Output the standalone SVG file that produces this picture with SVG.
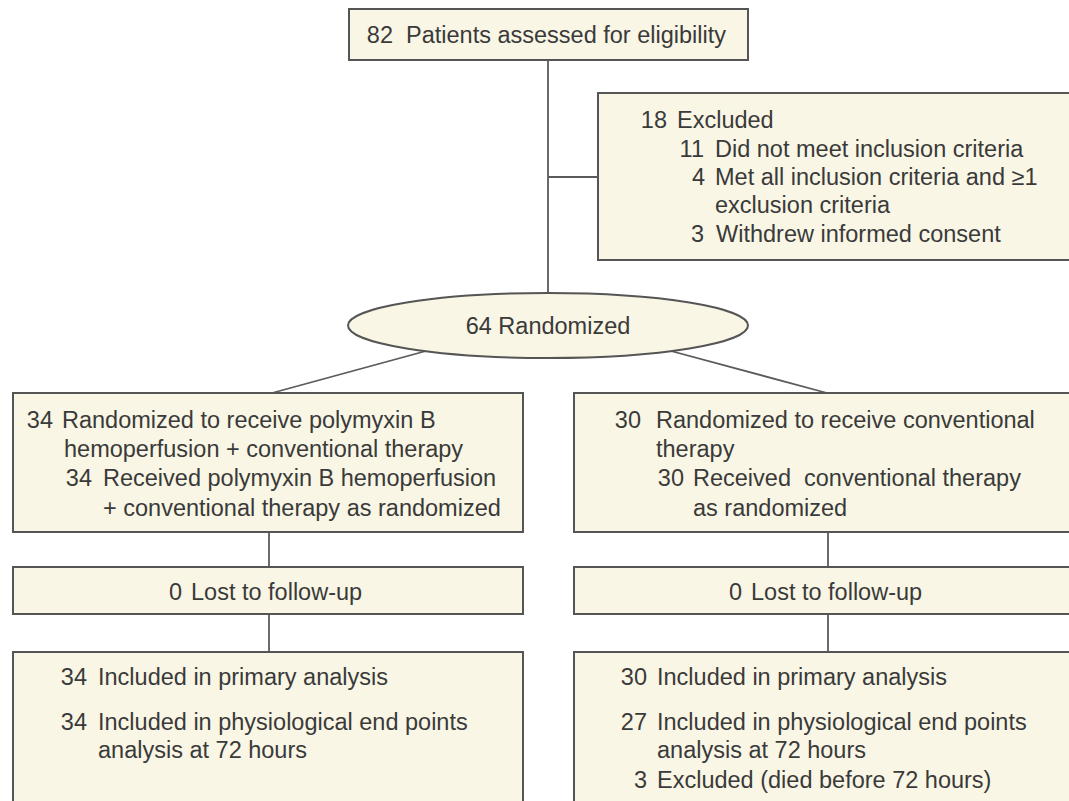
<svg xmlns="http://www.w3.org/2000/svg" width="1069" height="801" viewBox="0 0 1069 801">
<style>
.box{fill:#f9f6e5;stroke:#555;stroke-width:2}
.ln{stroke:#5a5a5a;stroke-width:1.8;fill:none}
text{font-family:"Liberation Sans",Arial,Helvetica,sans-serif;font-size:23.5px;fill:#3a3a3a;white-space:pre}
.n{text-anchor:end}
.c{text-anchor:middle}
</style>
<rect width="1069" height="801" fill="#ffffff"/>
<g id="connectors">
<line class="ln" x1="548" y1="60" x2="548" y2="293"/>
<line class="ln" x1="548" y1="177" x2="598" y2="177"/>
<line class="ln" x1="426" y1="351" x2="272" y2="393"/>
<line class="ln" x1="671" y1="351" x2="827" y2="393"/>
<line class="ln" x1="269" y1="532" x2="269" y2="567"/>
<line class="ln" x1="269" y1="614" x2="269" y2="652"/>
<line class="ln" x1="828" y1="532" x2="828" y2="567"/>
<line class="ln" x1="828" y1="614" x2="828" y2="652"/>
</g>
<g id="assessed">
<rect class="box" x="349" y="9" width="399" height="51"/>
<text class="n" x="393" y="43">82</text>
<text x="406" y="43">Patients assessed for eligibility</text>
</g>
<g id="excluded">
<rect class="box" x="598" y="93" width="490" height="167"/>
<text class="n" x="667" y="128">18</text>
<text x="677" y="128">Excluded</text>
<text class="n" x="704" y="157">11</text>
<text x="715" y="157">Did not meet inclusion criteria</text>
<text class="n" x="705" y="185">4</text>
<text x="715" y="185">Met all inclusion criteria and ≥1</text>
<text x="715" y="213">exclusion criteria</text>
<text class="n" x="704" y="242">3</text>
<text x="716" y="242">Withdrew informed consent</text>
</g>
<g id="randomized">
<ellipse class="box" cx="548" cy="325.5" rx="200" ry="32.5"/>
<text class="c" x="548" y="334">64 Randomized</text>
</g>
<g id="arm-pmx">
<rect class="box" x="13" y="393" width="510" height="139"/>
<text class="n" x="53" y="428">34</text>
<text x="62" y="428">Randomized to receive polymyxin B</text>
<text x="64" y="457">hemoperfusion + conventional therapy</text>
<text class="n" x="92" y="486">34</text>
<text x="103" y="486">Received polymyxin B hemoperfusion</text>
<text x="103" y="516">+ conventional therapy as randomized</text>
</g>
<g id="arm-conv">
<rect class="box" x="574" y="393" width="508" height="139"/>
<text class="n" x="641" y="428">30</text>
<text x="656" y="428">Randomized to receive conventional</text>
<text x="656" y="457">therapy</text>
<text class="n" x="684" y="486">30</text>
<text x="693" y="486">Received  conventional therapy</text>
<text x="693" y="516">as randomized</text>
</g>
<g id="lost-pmx">
<rect class="box" x="13" y="567" width="510" height="47"/>
<text class="n" x="182" y="600">0</text>
<text x="191" y="600">Lost to follow-up</text>
</g>
<g id="lost-conv">
<rect class="box" x="574" y="567" width="508" height="47"/>
<text class="n" x="742" y="600">0</text>
<text x="751" y="600">Lost to follow-up</text>
</g>
<g id="analysis-pmx">
<rect class="box" x="13" y="652" width="510" height="160"/>
<text class="n" x="87" y="685">34</text>
<text x="98" y="685">Included in primary analysis</text>
<text class="n" x="87" y="730">34</text>
<text x="98" y="730">Included in physiological end points</text>
<text x="98" y="758">analysis at 72 hours</text>
</g>
<g id="analysis-conv">
<rect class="box" x="574" y="652" width="508" height="160"/>
<text class="n" x="647" y="685">30</text>
<text x="657" y="685">Included in primary analysis</text>
<text class="n" x="647" y="730">27</text>
<text x="657" y="730">Included in physiological end points</text>
<text x="657" y="758">analysis at 72 hours</text>
<text class="n" x="647" y="788">3</text>
<text x="657" y="788">Excluded (died before 72 hours)</text>
</g>
</svg>
